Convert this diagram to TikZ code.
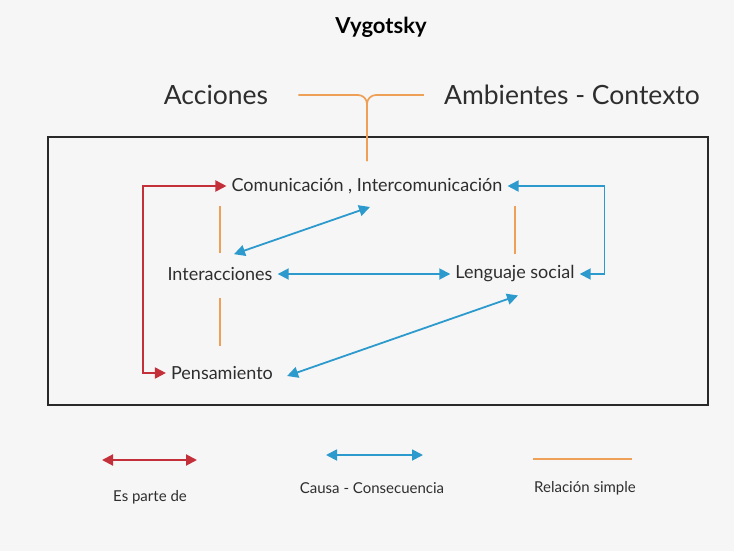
\documentclass[tikz,border=0pt]{standalone}
\usepackage{fontspec}
\setmainfont{Lato}
\usetikzlibrary{arrows.meta}
\definecolor{bgcol}{HTML}{F6F6F6}
\definecolor{txt}{HTML}{2E2E2E}
\definecolor{redc}{HTML}{C4303A}
\definecolor{bluec}{HTML}{2C9ACD}
\definecolor{orangec}{HTML}{EDA056}
\begin{document}
\begin{tikzpicture}[x=1pt, y=-1pt,
	concept/.style={text=txt, font=\fontsize{18}{21}\selectfont, inner sep=5pt},
	big concept/.style={text=txt, font=\fontsize{26.5}{30}\selectfont, inner sep=2pt},
	legend/.style={text=txt, font=\fontsize{15}{18}\selectfont},
	red link/.style={draw=redc, line width=2pt, {Triangle[length=11pt,width=11pt]}-{Triangle[length=11pt,width=11pt]}},
	blue link/.style={draw=bluec, line width=1.8pt, {Triangle[length=11pt,width=11pt]}-{Triangle[length=11pt,width=11pt]}},
	simple link/.style={draw=orangec, line width=1.7pt}]
		\fill[bgcol] (0,0) rectangle (734,551);
		\node[text=black, font=\fontsize{22}{26}\selectfont\bfseries] (title) at (381,27) {Vygotsky};
		\node[big concept] (acc) at (216,95) {Acciones};
		\node[big concept] (amb) at (572,95) {Ambientes - Contexto};
		\draw[draw=txt!90!black, line width=1.5pt] (48,137) rectangle (708,405);
		\node[concept] (com) at (367,186) {Comunicación , Intercomunicación};
		\node[concept] (inter) at (220,274) {Interacciones};
		\node[concept] (lang) at (515,274) {Lenguaje social};
		\node[concept] (pens) at (222,373) {Pensamiento};
		% orange lines
		\draw[simple link, rounded corners=9pt, shorten <=28pt, shorten >=12pt] (acc.east) -| (com.north);
		\draw[simple link, rounded corners=9pt, shorten <=18pt, shorten >=12pt] (amb.west) -| (com.north);
		\draw[simple link, shorten <=9pt, shorten >=7pt] (inter.north) -- (inter.north |- com.south);
		\draw[simple link, shorten <=12pt, shorten >=15pt] (inter.south) -- (inter.south |- pens.north);
		\draw[simple link, shorten <=7pt, shorten >=7pt] (lang.north |- com.south) -- (lang.north);
		% red
		\draw[red link] (com.west) -- ++(-83,0) |- (pens.west);
		% blue
		\draw[blue link] (com.east) -- ++(97,0) |- (lang.east);
		\draw[blue link] ([xshift=3pt,yshift=-8pt]com.south) -- ([xshift=14pt,yshift=8pt]inter.north);
		\draw[blue link] (inter.east) -- (lang.west);
		\draw[blue link] ([xshift=9pt,yshift=-3pt]pens.east) -- ([xshift=3pt,yshift=-8pt]lang.south);
		% legend
		\node[legend] (l red) at (150,497) {Es parte de};
		\node[legend] (l blue) at (372,488) {Causa - Consecuencia};
		\node[legend] (l orange) at (585,488) {Relación simple};
		\coordinate (r1) at (102,460); \coordinate (r2) at (197,460);
		\coordinate (b1) at (326,455); \coordinate (b2) at (423,455);
		\coordinate (o1) at (533,459); \coordinate (o2) at (632,459);
		\draw[red link] (r1) -- (r2);
		\draw[blue link] (b1) -- (b2);
		\draw[simple link] (o1) -- (o2);
\end{tikzpicture}
\end{document}
